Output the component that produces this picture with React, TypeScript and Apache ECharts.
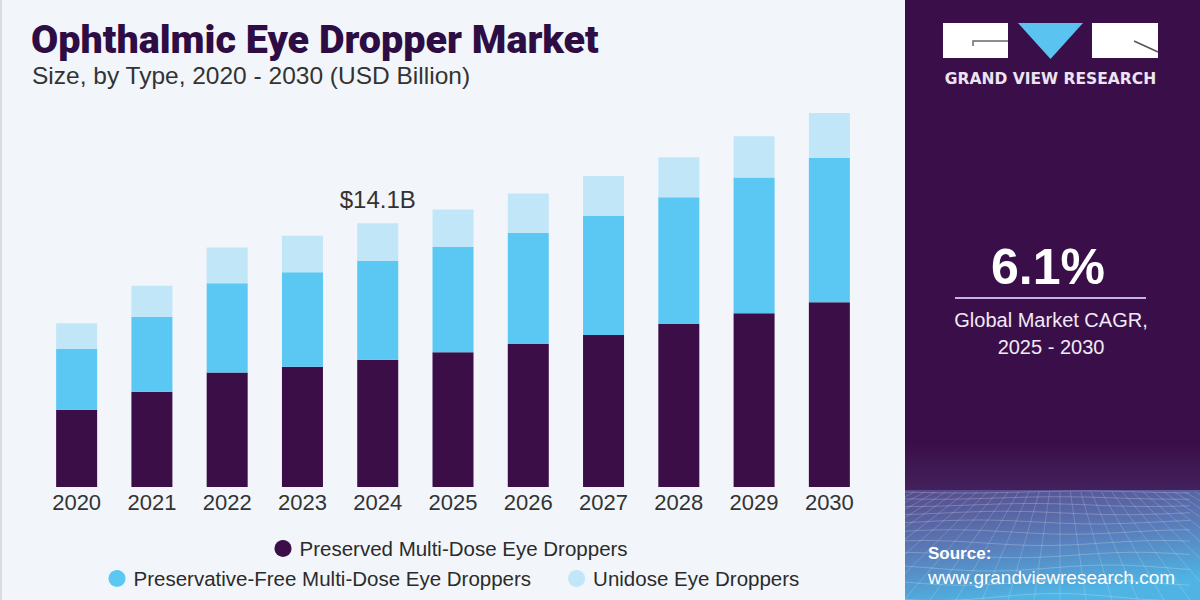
import React, { useEffect, useRef } from "react";
import * as echarts from "echarts";

// Market size by type, USD billion
const years = ["2020", "2021", "2022", "2023", "2024", "2025", "2026", "2027", "2028", "2029", "2030"];
const preservedMultiDose = [4.13, 5.09, 6.12, 6.43, 6.8, 7.21, 7.65, 8.13, 8.72, 9.29, 9.88];
const preservativeFreeMultiDose = [3.26, 4.01, 4.77, 5.06, 5.3, 5.62, 5.94, 6.36, 6.77, 7.26, 7.72];
const unidose = [1.37, 1.66, 1.92, 1.94, 2.0, 2.01, 2.1, 2.14, 2.14, 2.21, 2.46];

const seriesNames = [
  "Preserved Multi-Dose Eye Droppers",
  "Preservative-Free Multi-Dose Eye Droppers",
  "Unidose Eye Droppers",
];
const seriesColors = ["#3b0e48", "#5bc8f4", "#c0e6f8"];
const calloutYear = "2024";

const titleText = "Ophthalmic Eye Dropper Market";
const subtitleText = "Size, by Type, 2020 - 2030 (USD Billion)";
const cagrValue = "6.1%";
const cagrCaption = "Global Market CAGR,\n2025 - 2030";

const PANEL_X = 905;
const PANEL_BG = "#3a0f49";

// Wireframe decoration for the lower part of the side panel
function meshLines() {
  const out: any[] = [];
  const top = 492;
  const bottom = 600;
  const rows = [0, 6, 13, 21, 30, 40, 51, 63, 76, 90, 105];
  rows.forEach((dy, i) => {
    const pts: number[][] = [];
    for (let x = PANEL_X; x <= 1200; x += 15) {
      const wave = Math.sin((x - PANEL_X) / 38 + i * 0.7) * (1 + i * 0.25);
      pts.push([x, top + dy + wave]);
    }
    out.push({
      type: "polyline",
      silent: true,
      shape: { points: pts },
      style: { stroke: "rgba(255,255,255,0.22)", lineWidth: 1, fill: null },
    });
  });
  const vx = 1060;
  const vy = 420;
  for (let k = -14; k <= 14; k++) {
    const bx = vx + k * 26;
    const tx = vx + (bx - vx) * ((top - vy) / (bottom - vy));
    out.push({
      type: "line",
      silent: true,
      shape: { x1: tx, y1: top, x2: bx, y2: bottom },
      style: { stroke: "rgba(255,255,255,0.18)", lineWidth: 1 },
    });
  }
  return out;
}

export default function App() {
  const ref = useRef<HTMLDivElement>(null);

  useEffect(() => {
    if (!ref.current) return;
    const chart = echarts.init(ref.current, undefined, { renderer: "svg" });

    const calloutIdx = years.indexOf(calloutYear);
    const calloutTotal =
      preservedMultiDose[calloutIdx] + preservativeFreeMultiDose[calloutIdx] + unidose[calloutIdx];

    const stacks = [preservedMultiDose, preservativeFreeMultiDose, unidose];

    const series = stacks.map((values, si) => ({
      name: seriesNames[si],
      type: "bar",
      stack: "total",
      barWidth: 41,
      itemStyle: { color: seriesColors[si] },
      data: values.map((v, i) =>
        si === 2 && i === calloutIdx
          ? {
              value: v,
              label: {
                show: true,
                position: "top",
                distance: 12,
                formatter: () => `$${calloutTotal.toFixed(1)}B`,
                fontFamily: "Liberation Sans",
                fontSize: 24,
                color: "#333333",
              },
            }
          : v
      ),
    }));

    const legendText = {
      fontFamily: "Liberation Sans",
      fontSize: 20.5,
      lineHeight: 20,
      color: "#2b2b2b",
      padding: [0, 0, 0, 3],
    };

    chart.setOption({
      animation: false,
      backgroundColor: "#f2f6fa",
      title: [
        {
          text: titleText,
          left: 31,
          top: 19,
          padding: 0,
          textStyle: {
            fontFamily: "Roboto",
            fontWeight: 900,
            fontSize: 39.5,
            color: "#2e0d45",
          },
        },
        {
          text: subtitleText,
          left: 32,
          top: 63,
          padding: 0,
          textStyle: {
            fontFamily: "Liberation Sans",
            fontWeight: "normal",
            fontSize: 24.5,
            color: "#333333",
          },
        },
      ],
      grid: { left: 39, right: 333, top: 113, bottom: 113, containLabel: false },
      xAxis: {
        type: "category",
        data: years,
        axisLine: { show: false },
        axisTick: { show: false },
        axisLabel: {
          fontFamily: "Liberation Sans",
          fontSize: 22,
          color: "#333333",
          margin: 4,
        },
      },
      yAxis: {
        type: "value",
        min: 0,
        max: 20,
        show: false,
        splitLine: { show: false },
      },
      legend: [
        {
          data: [seriesNames[0]],
          left: 274.5,
          top: 538,
          padding: 0,
          icon: "circle",
          itemWidth: 17,
          itemHeight: 17,
          textStyle: legendText,
          selectedMode: false,
        },
        {
          data: [seriesNames[1], seriesNames[2]],
          left: 108.5,
          top: 568,
          padding: 0,
          icon: "circle",
          itemWidth: 17,
          itemHeight: 17,
          itemGap: 37,
          textStyle: legendText,
          selectedMode: false,
        },
      ],
      series,
      graphic: [
        // thin rule along the left edge
        { type: "rect", silent: true, shape: { x: 0, y: 0, width: 2, height: 600 }, style: { fill: "#d9dde2" } },
        // side panel
        {
          type: "rect",
          silent: true,
          shape: { x: PANEL_X, y: 0, width: 1200 - PANEL_X, height: 600 },
          style: {
            fill: new echarts.graphic.LinearGradient(0, 0, 0, 1, [
              { offset: 0, color: PANEL_BG },
              { offset: 0.74, color: PANEL_BG },
              { offset: 0.815, color: "#43215c" },
              { offset: 1, color: "#43215c" },
            ]),
          },
        },
        {
          type: "rect",
          silent: true,
          shape: { x: PANEL_X, y: 490, width: 1200 - PANEL_X, height: 110 },
          style: {
            fill: new echarts.graphic.LinearGradient(0, 0, 0.3, 1, [
              { offset: 0, color: "#56498a" },
              { offset: 0.5, color: "#5a78b6" },
              { offset: 1, color: "#4fb3e3" },
            ]),
          },
        },
        ...meshLines(),
        // logo blocks
        { type: "rect", silent: true, shape: { x: 943, y: 23, width: 65, height: 35 }, style: { fill: "#ffffff" } },
        {
          type: "polyline",
          silent: true,
          shape: { points: [[973, 46], [973, 41], [1008, 41]] },
          style: { stroke: "#6a6a6a", lineWidth: 1.5, fill: null },
        },
        {
          type: "polygon",
          silent: true,
          shape: { points: [[1018, 23], [1083, 23], [1050.5, 59]] },
          style: { fill: "#5bc3f0" },
        },
        { type: "rect", silent: true, shape: { x: 1092, y: 23, width: 66, height: 35 }, style: { fill: "#ffffff" } },
        {
          type: "line",
          silent: true,
          shape: { x1: 1134, y1: 41, x2: 1158, y2: 52 },
          style: { stroke: "#555555", lineWidth: 1.5 },
        },
        {
          type: "text",
          silent: true,
          x: 1050.5,
          y: 79,
          style: {
            text: "GRAND VIEW RESEARCH",
            fontFamily: "DejaVu Sans",
            fontWeight: "bold",
            fontSize: 15.5,
            fill: "#ece4f3",
            align: "center",
            verticalAlign: "middle",
          },
        },
        // CAGR block
        {
          type: "text",
          silent: true,
          x: 1048,
          y: 267,
          style: {
            text: cagrValue,
            fontFamily: "Liberation Sans",
            fontWeight: "bold",
            fontSize: 50,
            fill: "#ffffff",
            align: "center",
            verticalAlign: "middle",
          },
        },
        {
          type: "line",
          silent: true,
          shape: { x1: 955, y1: 298, x2: 1146, y2: 298 },
          style: { stroke: "#c8b4e0", lineWidth: 2 },
        },
        {
          type: "text",
          silent: true,
          x: 1051,
          y: 333,
          style: {
            text: cagrCaption,
            fontFamily: "Liberation Sans",
            fontSize: 20,
            lineHeight: 27,
            fill: "#f1eaf6",
            align: "center",
            verticalAlign: "middle",
          },
        },
        // source
        {
          type: "text",
          silent: true,
          x: 928,
          y: 553,
          style: {
            text: "Source:",
            fontFamily: "Liberation Sans",
            fontWeight: "bold",
            fontSize: 17,
            fill: "#ffffff",
            verticalAlign: "middle",
          },
        },
        {
          type: "text",
          silent: true,
          x: 928,
          y: 577,
          style: {
            text: "www.grandviewresearch.com",
            fontFamily: "Liberation Sans",
            fontSize: 19,
            fill: "#ffffff",
            verticalAlign: "middle",
          },
        },
      ],
    });

    return () => chart.dispose();
  }, []);

  return (
    <div
      ref={ref}
      style={{ position: "fixed", left: 0, top: 0, width: 1200, height: 600 }}
    />
  );
}
